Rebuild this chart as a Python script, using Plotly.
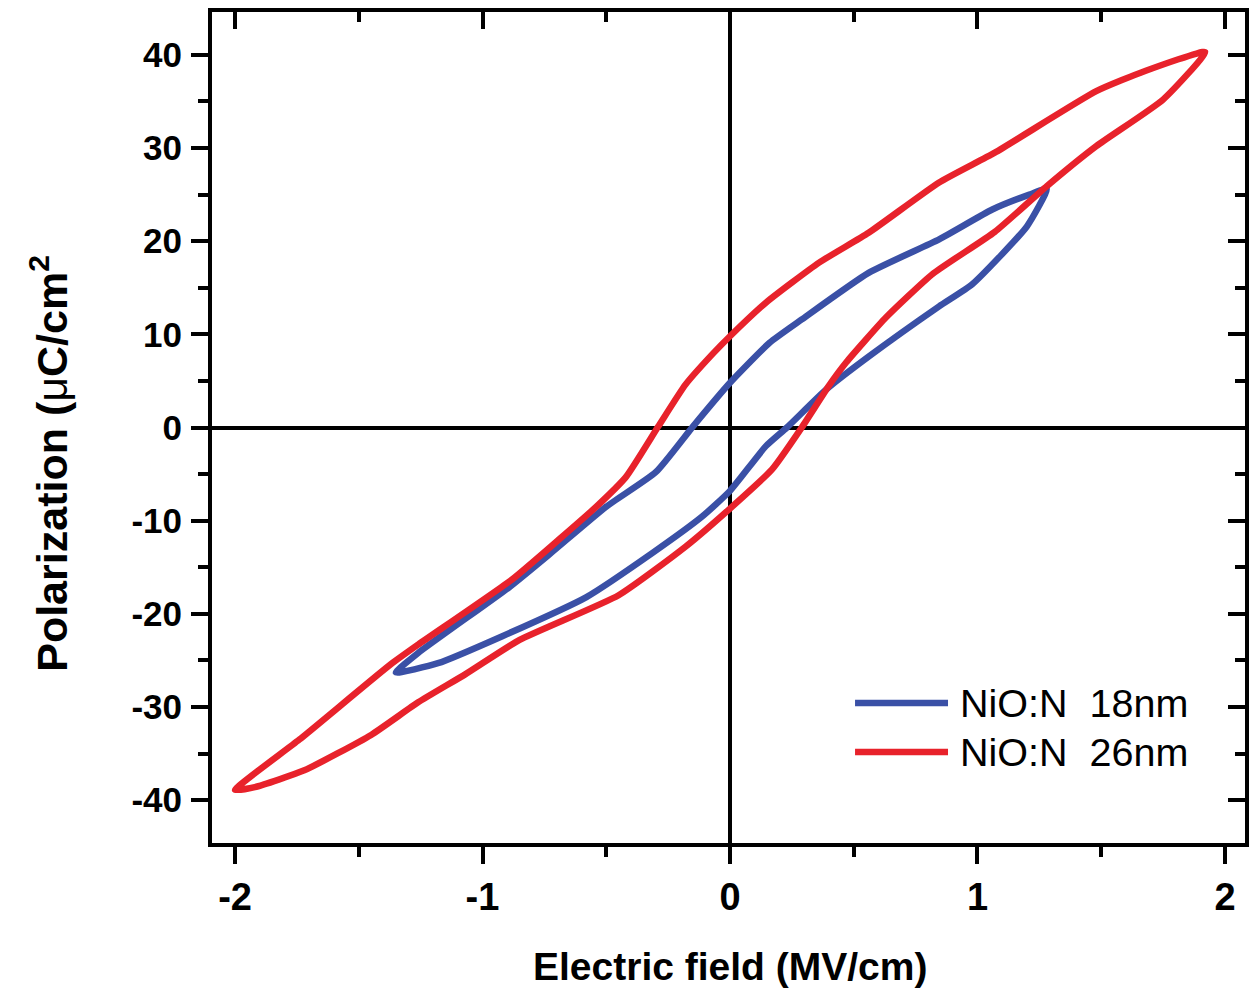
import plotly.graph_objects as go

# ---- data (Electric field in MV/cm, Polarization in uC/cm^2) ----
series_names = ["NiO:N\u00a0 18nm", "NiO:N\u00a0 26nm"]

# NiO:N 18nm loop (lower branch ascending, then upper branch descending)
field_18 = [-1.35, -1.18, -0.92, -0.58, -0.31, -0.11, 0.00, 0.145, 0.23, 0.39, 0.56, 0.845,
            0.98, 1.20, 1.28,
            1.21, 1.06, 0.845, 0.56, 0.29, 0.16, 0.00, -0.15, -0.30, -0.50, -0.72, -0.89,
            -1.26, -1.35]
pol_18 = [-26.3, -25.3, -22.4, -18.2, -13.4, -9.5, -6.8, -2.0, 0.0, 4.1, 7.6, 13.0,
          15.4, 21.6, 25.6,
          25.0, 23.4, 20.2, 16.6, 11.6, 9.1, 4.8, 0.1, -4.8, -8.5, -13.4, -17.1,
          -24.2, -26.3]

# NiO:N 26nm loop
field_26 = [-2.00, -1.92, -1.72, -1.45, -1.26, -1.07, -0.85, -0.45, -0.18, 0.00, 0.17, 0.29,
            0.40, 0.47, 0.63, 0.82, 1.07, 1.28, 1.48, 1.75, 1.92,
            1.68, 1.48, 1.07, 0.845, 0.56, 0.36, 0.145, 0.00, -0.07, -0.18, -0.29, -0.42,
            -0.54, -0.69, -0.88, -1.26, -1.37, -1.74, -2.00]
pol_26 = [-38.9, -38.6, -36.8, -33.0, -29.5, -26.5, -22.8, -18.0, -12.8, -8.7, -4.5, 0.0,
          4.5, 7.0, 11.8, 16.5, 21.0, 25.9, 30.2, 35.2, 40.3,
          38.3, 36.1, 29.5, 26.3, 20.9, 17.7, 13.4, 9.8, 7.9, 4.6, 0.1, -5.3,
          -8.5, -12.0, -16.3, -23.3, -25.4, -33.5, -38.9]

x_ticks = [-2, -1, 0, 1, 2]
y_ticks = [-40, -30, -20, -10, 0, 10, 20, 30, 40]

colors = ["#3A50A6", "#E8222B"]
X_RANGE = [-2.093, 2.081]
Y_RANGE = [-44.6, 44.6]
FONT = "Liberation Sans, Arial, sans-serif"

fig = go.Figure()
fig.add_trace(go.Scatter(x=field_18, y=pol_18, mode="lines", name=series_names[0],
                         line=dict(color=colors[0], width=6.5, shape="spline", smoothing=0.5),
                         showlegend=False))
fig.add_trace(go.Scatter(x=field_26, y=pol_26, mode="lines", name=series_names[1],
                         line=dict(color=colors[1], width=6.5, shape="spline", smoothing=0.5),
                         showlegend=False))
# invisible helper trace so the mirrored (top/right) axes are drawn
fig.add_trace(go.Scatter(x=[0], y=[0], mode="markers", marker=dict(opacity=0),
                         xaxis="x2", yaxis="y2", showlegend=False, hoverinfo="skip"))

axis_common = dict(showgrid=False, showline=True, linecolor="black", linewidth=4,
                   tickcolor="black", tickwidth=4, automargin=False)

fig.update_layout(
    width=1241, height=981,
    paper_bgcolor="white", plot_bgcolor="white",
    margin=dict(l=204, r=4, t=4, b=146, autoexpand=False),
    font=dict(family=FONT, color="black"),
    xaxis=dict(range=X_RANGE, tickvals=x_ticks, ticktext=[str(v) for v in x_ticks],
               ticks="outside", ticklen=17, ticklabelstandoff=0,
               minor=dict(dtick=0.5, tick0=0, ticks="outside", ticklen=10,
                          tickcolor="black", tickwidth=4),
               tickfont=dict(size=38, family=FONT, weight="bold"),
               zeroline=True, zerolinecolor="black", zerolinewidth=3.5,
               **axis_common),
    yaxis=dict(range=Y_RANGE, tickvals=y_ticks, ticktext=[str(v) for v in y_ticks],
               ticks="outside", ticklen=17, ticklabelstandoff=2,
               minor=dict(dtick=5, tick0=0, ticks="outside", ticklen=10,
                          tickcolor="black", tickwidth=4),
               tickfont=dict(size=35, family=FONT, weight="bold"),
               zeroline=True, zerolinecolor="black", zerolinewidth=3.5,
               **axis_common),
    xaxis2=dict(range=X_RANGE, overlaying="x", side="top", anchor="y",
                tickvals=x_ticks, showticklabels=False, ticks="inside", ticklen=17,
                minor=dict(dtick=0.5, tick0=0, ticks="inside", ticklen=10,
                           tickcolor="black", tickwidth=4),
                zeroline=False, **axis_common),
    yaxis2=dict(range=Y_RANGE, overlaying="y", side="right", anchor="x",
                tickvals=y_ticks, showticklabels=False, ticks="inside", ticklen=17,
                minor=dict(dtick=5, tick0=0, ticks="inside", ticklen=10,
                           tickcolor="black", tickwidth=4),
                zeroline=False, **axis_common),
)

# axis titles
fig.add_annotation(text="<b>Electric field (MV/cm)</b>", xref="paper", yref="paper",
                   x=0.5015, y=-0.1492, xanchor="center", yanchor="middle", showarrow=False,
                   font=dict(size=39, family=FONT, color="black"))
fig.add_annotation(text="<b>Polarization (</b>μ<b>C/cm<sup>2</sup></b>", xref="paper", yref="paper",
                   x=-0.158, y=0.4573, xanchor="center", yanchor="middle",
                   showarrow=False, textangle=-90,
                   font=dict(size=43, family=FONT, color="black"))

# legend drawn manually (long line samples as in the reference)
leg_y = [0.1685, 0.1095]
for name, col, ly in zip(series_names, colors, leg_y):
    fig.add_shape(type="line", xref="paper", yref="paper", x0=0.6225, x1=0.7125,
                  y0=ly, y1=ly, line=dict(color=col, width=6.5))
    fig.add_annotation(text=name, xref="paper", yref="paper", x=0.7222, y=ly,
                       xanchor="left", yanchor="middle", showarrow=False,
                       font=dict(size=39.5, family=FONT, color="black"))

fig.write_html("out.html")
